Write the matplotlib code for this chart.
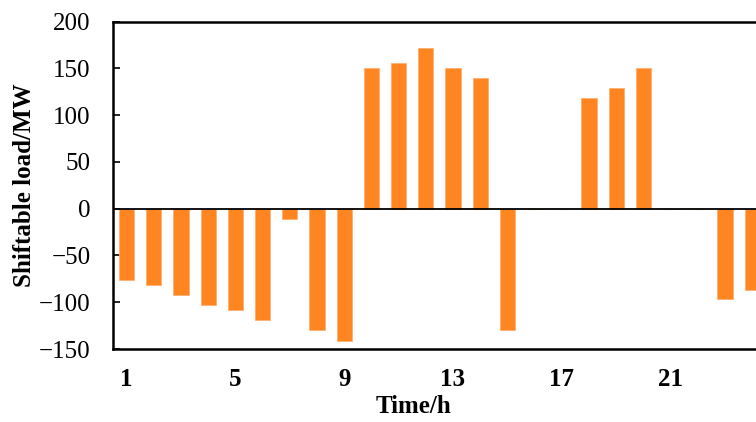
import matplotlib
matplotlib.use("Agg")
import matplotlib.pyplot as plt

hours = list(range(1, 25))
shift_load = [-76, -82, -92, -103, -108, -119, -11, -130, -141, 150, 156, 172,
              150, 140, -130, 0, 0, 118, 129, 150, 0, 0, -97, -87]
xticks = [1, 5, 9, 13, 17, 21]
yticks = [-150, -100, -50, 0, 50, 100, 150, 200]

plt.rcParams['font.family'] = ['Liberation Serif', 'DejaVu Serif']

W, H = 756, 422
fig = plt.figure(figsize=(W / 100, H / 100), dpi=100)
left = 113 / W
axw = 24 * 27.2
bottom = 1 - 349 / H
top = 1 - 21.5 / H
ax = fig.add_axes([left, bottom, axw / W, top - bottom])

ax.bar(hours, shift_load, width=0.56, color='#FF8520', edgecolor='#FFB070',
       linewidth=0.6, zorder=2)
ax.axhline(0, color='black', lw=1.3, zorder=3)

ax.set_xlim(0.5, 24.5)
ax.set_ylim(-150, 200)
ax.set_xticks(xticks)
ax.set_yticks(yticks)
ax.tick_params(axis='x', length=0, pad=14, labelsize=18)
ax.tick_params(axis='y', direction='in', length=5, width=1.2, pad=16, labelsize=18)
for lab in ax.get_xticklabels():
    lab.set_fontweight('bold')

for s in ax.spines.values():
    s.set_linewidth(1.8)
    s.set_color('black')

ax.set_xlabel('Time/h', fontsize=18, fontweight='bold')
ax.set_ylabel('Shiftable load/MW', fontsize=18, fontweight='bold')
ax.xaxis.set_label_coords((414 - 113) / axw, -(395 - 349) / (349 - 21.5))
ax.yaxis.set_label_coords((36 - 113) / axw, 0.5)

fig.savefig('out.png', dpi=100)
